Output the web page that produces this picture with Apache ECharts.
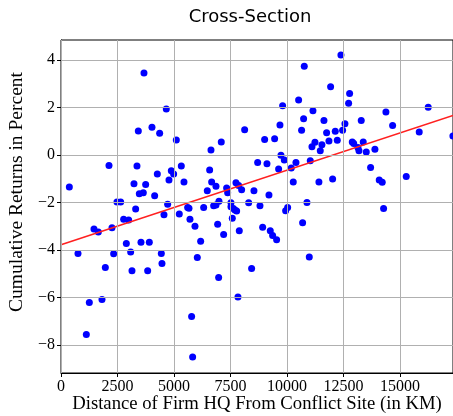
<!DOCTYPE html>
<html>
<head>
<meta charset="utf-8">
<script src="https://cdn.jsdelivr.net/npm/echarts@6/dist/echarts.min.js"></script>
<style>html,body{margin:0;padding:0;background:#fff}#c{width:453px;height:416px}</style>
</head>
<body>
<div id="c"></div>
<script>
// distance (km)
const distKm = [3673,4660,3422,4027,4366,5104,2124,3363,5325,4882,4985,4263,4779,5443,3230,3747,369,3466,3643,4145,2478,2640,4720,3304,5606,5664,
2773,2994,4558,5236,5708,1460,1652,2257,2891,3083,3540,3909,752,2330,4440,4469,1962,3142,3836,1814,1254,1121,5781,5826,
10767,10517,9809,11151,10738,9691,10649,8128,9013,9455,7094,6638,11240,9735,9883,8704,9116,9632,10191,10399,11032,6579,6668,6859,6475,7331,7744,7862,7995,7376,8540,9204,10280,6991,7522,8306,10886,6314,6757,8806,10031,7626,
5930,6181,6859,6933,7198,7523,7700,7582,7774,7891,8925,9262,9366,9543,9942,10694,10989,6033,6977,8437,7832,
12390,11933,12774,12730,14381,16254,11638,13289,14677,12567,12464,12139,11756,12228,11859,11107,11549,11475,12892,12956,13142,13377,13187,13511,13894,15855,17346,13703,14085,14218,15280,11416,12022,14278];
// cumulative returns (%)
const cumRet = [3.46,1.94,1.01,1.17,0.92,0.63,-0.44,-0.46,-0.46,-0.66,-0.80,-0.80,-1.05,-1.14,-1.21,-1.24,-1.35,-1.63,-1.59,-1.72,-1.98,-1.98,-2.08,-2.28,-2.21,-2.24,
-2.71,-2.74,-2.52,-2.49,-2.71,-3.12,-3.25,-3.07,-3.73,-4.09,-3.68,-3.68,-4.15,-4.16,-4.15,-4.57,-4.74,-4.88,-4.88,-6.09,-6.22,-7.57,-6.81,-8.52,
3.74,2.32,2.08,1.87,1.53,1.27,1.04,1.07,0.65,0.69,0.55,0.21,0.54,-0.01,-0.21,-0.31,-0.37,-0.59,-0.55,-0.31,-0.24,-0.63,-1.14,-1.32,-1.51,-1.39,-1.17,-1.28,-1.46,-1.59,-1.51,-1.69,-1.14,-1.95,-2.01,-2.01,-2.0,-2.21,-2.14,-2.14,-2.21,-2.25,
-3.0,-3.64,-2.11,-2.92,-3.35,-2.18,-2.32,-2.67,-2.36,-3.19,-3.05,-3.19,-3.39,-3.57,-2.35,-2.86,-4.30,-4.32,-5.16,-4.78,-5.99,
4.22,2.88,2.59,2.18,1.81,2.01,1.46,1.46,1.24,1.32,1.04,1.0,0.94,0.62,0.59,0.35,0.43,0.18,0.55,0.49,0.32,0.55,0.18,0.13,0.24,0.97,0.80,-0.53,-1.05,-1.15,-0.91,-1.14,-1.01,-2.25];
// fitted line
const fitIntercept = -3.78;
const fitSlope = 0.000314;
// axes
const xTicks = [0,2500,5000,7500,10000,12500,15000];
const yTicks = [-8,-6,-4,-2,0,2,4];
const xMin = 0, xMax = 17350;
const yMin = -9.19, yMax = 4.85;

const pts = distKm.map((d,i)=>[d,cumRet[i]]);
const fitLine = [xMin, xMax].map(x=>[x, fitIntercept + fitSlope*x]);
const fmt = v => v < 0 ? '\u2212' + Math.abs(v) : String(v);
const serif = '"Liberation Serif", "DejaVu Serif", serif';

const chart = echarts.init(document.getElementById('c'), null, {renderer:'canvas'});
chart.setOption({
  animation:false,
  grid:{left:61, top:40, right:0, bottom:43, show:true, borderColor:'#000', borderWidth:1, backgroundColor:'transparent'},
  xAxis:{type:'value', min:xMin, max:xMax,
    axisLine:{show:true, onZero:false, lineStyle:{color:'#000', width:1}},
    axisTick:{show:true, inside:false, length:4, customValues:xTicks, lineStyle:{color:'#000'}},
    axisLabel:{customValues:xTicks, color:'#000', fontFamily:serif, fontSize:16, margin:6, formatter:fmt},
    splitLine:{show:false}},
  yAxis:{type:'value', min:yMin, max:yMax,
    axisLine:{show:true, onZero:false, lineStyle:{color:'#000', width:1}},
    axisTick:{show:true, inside:false, length:4, customValues:yTicks, lineStyle:{color:'#000'}},
    axisLabel:{customValues:yTicks, color:'#000', fontFamily:serif, fontSize:16, margin:6, formatter:fmt},
    splitLine:{show:false}},
  series:[
    {type:'line', data:[], z:1, silent:true,
     markLine:{silent:true, symbol:['none','none'], label:{show:false},
       lineStyle:{color:'#b0b0b0', width:1, type:'solid'},
       data: xTicks.map(v=>({xAxis:v})).concat(yTicks.map(v=>({yAxis:v})))}},
    {type:'scatter', data:pts, symbolSize:7, itemStyle:{color:'#0000ff', opacity:1}, z:3},
    {type:'line', data:fitLine, showSymbol:false, symbol:'none', lineStyle:{color:'#ff2020', width:1.6}, z:4}
  ],
  graphic:[
    {type:'text', x:250, y:17, style:{text:'Cross-Section', font:'18px "DejaVu Sans"', fill:'#000', textAlign:'center', textVerticalAlign:'middle'}},
    {type:'text', x:257, y:404, style:{text:'Distance of Firm HQ From Conflict Site (in KM)', font:'18.7px ' + serif, fill:'#000', textAlign:'center', textVerticalAlign:'middle'}},
    {type:'text', x:17, y:192, rotation:Math.PI/2, style:{text:'Cumulative Returns in Percent', font:'19.5px ' + serif, fill:'#000', textAlign:'center', textVerticalAlign:'middle'}}
  ]
});
</script>
</body>
</html>
